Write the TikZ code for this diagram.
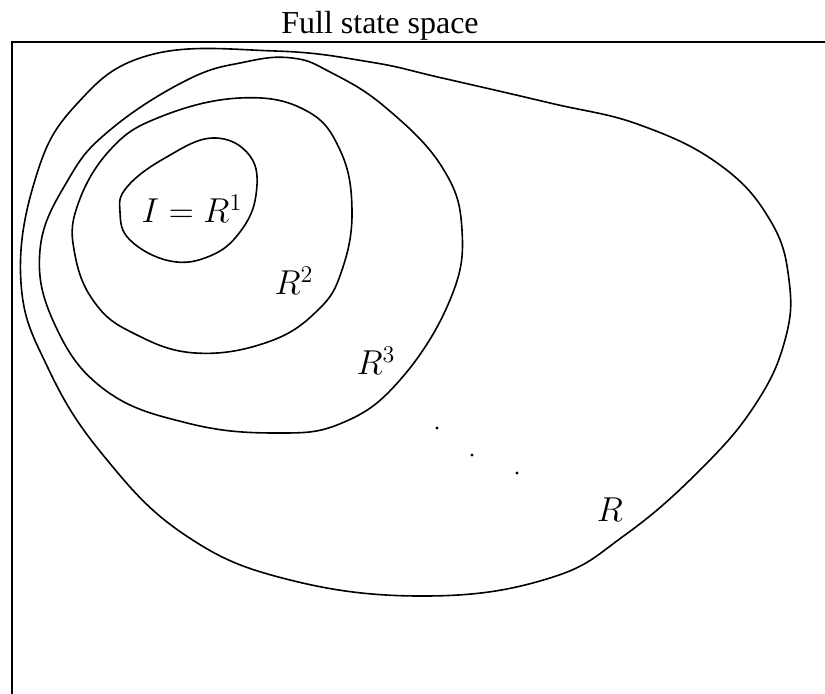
\documentclass[tikz,border=0pt]{standalone}
\usepackage{amsmath}
\usepackage{fontspec}
\newfontfamily\titlefont{Liberation Serif}
\usetikzlibrary{positioning}

\begin{document}
\begin{tikzpicture}[x=0.5pt, y=-0.5pt,
    region/.style={line width=0.8pt, smooth cycle, tension=0.7},
    setlabel/.style={anchor=base, inner sep=0pt, font=\fontsize{18.5}{22}\selectfont}]
    \useasboundingbox (0,0) rectangle (825,694);

    % frame of the full state space
    \draw[line width=1pt] (825,42) -- (11.5,42) -- (11.5,694);
    \node[anchor=base, inner sep=0pt, font=\titlefont\fontsize{16}{19}\selectfont] (title) at (380,34) {Full state space};

    % R
    \draw[region] plot coordinates {(275,51) (150,55) (75,106) (35,180) (21,283) (48,368) (103,455) (185,535) (290,580) (428,596) (550,578) (625,535) (700,470) (755,405) (785,340) (789,280) (770,220) (720,165) (640,125) (550,103) (442,78) (370,62)};
    % R^3
    \draw[region] plot coordinates {(245,62) (187,80) (110,130) (68,180) (40,250) (55,325) (105,390) (187,423) (275,433) (342,423) (400,380) (450,300) (462,230) (442,167) (385,107) (330,72) (292,58)};
    % R^2
    \draw[region] plot coordinates {(240,98) (160,117) (110,150) (77,207) (75,255) (95,303) (133,333) (195,353) (268,342) (318,310) (342,270) (352,210) (340,150) (305,110)};
    % I = R^1
    \draw[region] plot coordinates {(213,138) (165,158) (127,187) (120,212) (130,240) (170,261) (210,256) (240,232) (256,195) (250,156)};

    \node[setlabel] (r1) at (192,223) {$I = R^1$};
    \node[setlabel] (r2) at (294,295) {$R^2$};
    \node[setlabel] (r3) at (376,375) {$R^3$};
    \node[setlabel] (r) at (610,522) {$R$};

    % dots
    \foreach \p in {(437,428), (472,455), (517,473)}
        \fill \p circle (1.7);
\end{tikzpicture}
\end{document}
